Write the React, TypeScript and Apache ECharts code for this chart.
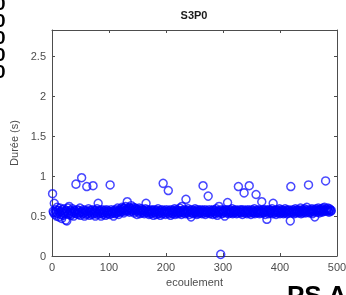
import React, { useEffect, useRef } from "react";
import * as echarts from "echarts";

const title = "S3P0";
const xName = "ecoulement";
const yName = "Durée (s)";
const xTicks = [0, 100, 200, 300, 400, 500];
const yTicks = [0, 0.5, 1, 1.5, 2, 2.5];
const durations = [
  0.78, 0.56, 0.54, 0.66, 0.52, 0.58, 0.55, 0.50, 0.61, 0.53,
  0.57, 0.49, 0.55, 0.60, 0.52, 0.56, 0.47, 0.58, 0.54, 0.51,
  0.59, 0.53, 0.56, 0.45, 0.57, 0.44, 0.55, 0.60, 0.52, 0.62,
  0.54, 0.57, 0.51, 0.56, 0.53, 0.59, 0.55, 0.50, 0.57, 0.54,
  0.56, 0.90, 0.53, 0.58, 0.55, 0.52, 0.57, 0.54, 0.60, 0.51,
  0.55, 0.98, 0.56, 0.53, 0.58, 0.54, 0.50, 0.57, 0.55, 0.52,
  0.87, 0.56, 0.53, 0.59, 0.55, 0.51, 0.57, 0.54, 0.56, 0.52,
  0.58, 0.88, 0.55, 0.53, 0.57, 0.50, 0.56, 0.54, 0.59, 0.52,
  0.66, 0.55, 0.57, 0.53, 0.56, 0.50, 0.58, 0.54, 0.55, 0.52,
  0.57, 0.54, 0.56, 0.51, 0.58, 0.55, 0.53, 0.57, 0.54, 0.56,
  0.52, 0.89, 0.55, 0.58, 0.53, 0.56, 0.54, 0.50, 0.57, 0.55,
  0.53, 0.58, 0.56, 0.54, 0.60, 0.55, 0.52, 0.57, 0.56, 0.59,
  0.55, 0.58, 0.61, 0.56, 0.59, 0.54, 0.60, 0.57, 0.62, 0.58,
  0.56, 0.68, 0.59, 0.57, 0.61, 0.55, 0.60, 0.58, 0.63, 0.56,
  0.59, 0.57, 0.61, 0.54, 0.58, 0.60, 0.56, 0.59, 0.52, 0.57,
  0.58, 0.55, 0.60, 0.53, 0.57, 0.56, 0.59, 0.54, 0.58, 0.55,
  0.57, 0.53, 0.56, 0.59, 0.66, 0.55, 0.58, 0.54, 0.56, 0.52,
  0.57, 0.55, 0.53, 0.58, 0.56, 0.54, 0.57, 0.51, 0.55, 0.58,
  0.54, 0.56, 0.52, 0.57, 0.55, 0.59, 0.53, 0.56, 0.54, 0.51,
  0.57, 0.55, 0.58, 0.53, 0.91, 0.56, 0.54, 0.57, 0.52, 0.55,
  0.58, 0.54, 0.56, 0.82, 0.53, 0.57, 0.55, 0.51, 0.58, 0.54,
  0.56, 0.53, 0.57, 0.55, 0.59, 0.52, 0.56, 0.54, 0.58, 0.55,
  0.53, 0.57, 0.55, 0.60, 0.54, 0.56, 0.52, 0.62, 0.55, 0.57,
  0.54, 0.58, 0.56, 0.53, 0.71, 0.55, 0.57, 0.54, 0.59, 0.56,
  0.52, 0.57, 0.55, 0.49, 0.58, 0.54, 0.56, 0.53, 0.57, 0.55,
  0.59, 0.54, 0.56, 0.52, 0.58, 0.55, 0.53, 0.57, 0.56, 0.54,
  0.58, 0.55, 0.53, 0.57, 0.88, 0.56, 0.54, 0.58, 0.52, 0.55,
  0.57, 0.54, 0.56, 0.75, 0.55, 0.58, 0.53, 0.56, 0.54, 0.57,
  0.55, 0.52, 0.58, 0.56, 0.54, 0.57, 0.53, 0.59, 0.55, 0.51,
  0.56, 0.54, 0.62, 0.57, 0.55, 0.02, 0.58, 0.53, 0.56, 0.54,
  0.57, 0.55, 0.50, 0.58, 0.56, 0.54, 0.57, 0.67, 0.55, 0.53,
  0.58, 0.56, 0.54, 0.57, 0.55, 0.59, 0.53, 0.56, 0.54, 0.57,
  0.55, 0.58, 0.56, 0.53, 0.57, 0.54, 0.87, 0.56, 0.55, 0.58,
  0.54, 0.57, 0.55, 0.52, 0.58, 0.56, 0.79, 0.54, 0.57, 0.55,
  0.56, 0.53, 0.58, 0.55, 0.57, 0.88, 0.54, 0.56, 0.52, 0.58,
  0.55, 0.57, 0.54, 0.56, 0.59, 0.53, 0.55, 0.77, 0.57, 0.54,
  0.56, 0.58, 0.55, 0.53, 0.57, 0.54, 0.56, 0.68, 0.55, 0.58,
  0.54, 0.57, 0.55, 0.52, 0.58, 0.56, 0.46, 0.57, 0.55, 0.53,
  0.58, 0.56, 0.54, 0.57, 0.55, 0.59, 0.53, 0.66, 0.56, 0.54,
  0.57, 0.55, 0.52, 0.58, 0.56, 0.54, 0.57, 0.55, 0.59, 0.53,
  0.56, 0.54, 0.58, 0.55, 0.57, 0.53, 0.56, 0.54, 0.59, 0.55,
  0.57, 0.53, 0.56, 0.58, 0.54, 0.57, 0.55, 0.44, 0.87, 0.56,
  0.54, 0.58, 0.55, 0.57, 0.53, 0.56, 0.59, 0.54, 0.57, 0.55,
  0.58, 0.56, 0.54, 0.57, 0.55, 0.60, 0.53, 0.56, 0.58, 0.54,
  0.57, 0.55, 0.59, 0.56, 0.54, 0.58, 0.61, 0.55, 0.57, 0.89,
  0.56, 0.54, 0.58, 0.55, 0.57, 0.59, 0.53, 0.56, 0.58, 0.55,
  0.49, 0.57, 0.59, 0.56, 0.58, 0.55, 0.60, 0.57, 0.54, 0.58,
  0.56, 0.59, 0.57, 0.55, 0.60, 0.58, 0.56, 0.61, 0.57, 0.94,
  0.59, 0.56, 0.58, 0.60, 0.57, 0.55, 0.59, 0.58, 0.56, 0.57,
];

export default function App() {
  const ref = useRef<HTMLDivElement>(null);
  useEffect(() => {
    if (!ref.current) return;
    const chart = echarts.init(ref.current, null, { renderer: "svg" });
    const font = "'Liberation Sans', Arial, sans-serif";
    const axisColor = "#4d4d4d";
    const yMax = 2.83;
    const xAxisBase = {
      type: "value" as const,
      min: xTicks[0],
      max: xTicks[xTicks.length - 1],
      interval: 100,
      splitLine: { show: false },
      axisLine: { show: true, onZero: false, lineStyle: { color: axisColor, width: 1 } },
      axisTick: { show: true, inside: true, length: 3, lineStyle: { color: axisColor } },
    };
    const yAxisBase = {
      type: "value" as const,
      min: yTicks[0],
      max: yMax,
      interval: 0.5,
      splitLine: { show: false },
      axisLine: { show: true, onZero: false, lineStyle: { color: axisColor, width: 1 } },
      axisTick: { show: true, inside: true, length: 3, lineStyle: { color: axisColor } },
    };
    chart.setOption({
      animation: false,
      grid: { left: 52, right: 9, top: 30, bottom: 39, outerBoundsMode: "none", containLabel: false },
      xAxis: [
        {
          ...xAxisBase,
          position: "bottom",
          name: xName,
          nameLocation: "middle",
          nameGap: 20,
          nameTextStyle: { fontFamily: font, fontSize: 11, color: axisColor },
          axisLabel: {
            fontFamily: font, fontSize: 11, color: axisColor, margin: 5,
            formatter: (v: number) => (xTicks.includes(v) ? String(v) : ""),
          },
        },
        { ...xAxisBase, position: "top", axisLabel: { show: false } },
      ],
      yAxis: [
        {
          ...yAxisBase,
          position: "left",
          name: yName,
          nameLocation: "middle",
          nameGap: 29,
          nameTextStyle: { fontFamily: font, fontSize: 11, color: axisColor },
          axisLabel: {
            fontFamily: font, fontSize: 11, color: axisColor, margin: 6,
            showMaxLabel: false,
            formatter: (v: number) => (yTicks.includes(v) ? String(v) : ""),
          },
        },
        { ...yAxisBase, position: "right", axisLabel: { show: false } },
      ],
      series: [
        {
          type: "scatter",
          xAxisIndex: 0,
          yAxisIndex: 0,
          symbol: "circle",
          symbolSize: 8,
          itemStyle: { color: "rgba(0,0,0,0)", borderColor: "rgba(0,0,255,0.9)", borderWidth: 1.5 },
          data: durations.map((d, i) => [i + 1, d]),
        },
      ],
      graphic: [
        {
          type: "text",
          x: 194,
          y: 9,
          style: {
            text: title,
            fontFamily: font,
            fontSize: 11,
            fontWeight: "bold",
            fill: "#1a1a1a",
            align: "center",
          },
        },
        {
          type: "text",
          x: -5,
          y: -5,
          style: {
            text: "0\n0\n0\n0\n0",
            fontFamily: font,
            fontSize: 19,
            fontWeight: "bold",
            lineHeight: 17,
            fill: "#000",
          },
        },
        {
          type: "text",
          x: 287,
          y: 282,
          style: {
            text: "PS A",
            fontFamily: font,
            fontSize: 26,
            fontWeight: "bold",
            fill: "#000",
          },
        },
      ],
    });
    return () => chart.dispose();
  }, []);
  return <div ref={ref} style={{ position: "fixed", left: 0, top: 0, width: 346, height: 295 }} />;
}
